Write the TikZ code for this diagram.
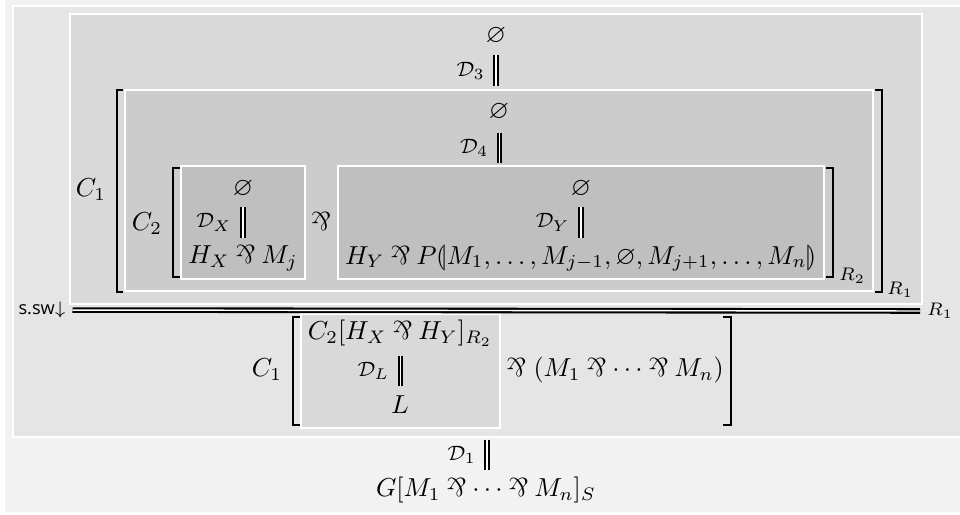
\documentclass[tikz,border=0pt]{standalone}
\usepackage{amsmath,amssymb}
\usepackage{graphicx}
\usepackage{stmaryrd}
\usepackage{fontspec}
\newfontfamily\tagfont{Open Sans}
\usetikzlibrary{positioning, fit}
\newcommand{\lpar}{\mathbin{\rotatebox[origin=c]{180}{$\&$}}}

\begin{document}
\begin{tikzpicture}[x=0.385pt, y=-0.385pt]
    \tikzstyle{panel} = [draw=white, line width=0.8pt, inner sep=0pt]
    \tikzstyle{brk} = [line width=0.8pt]
    \tikzstyle{lbl} = [font=\footnotesize, inner sep=0pt]
    \tikzstyle{sub} = [font=\scriptsize, inner sep=1pt]
    \tikzstyle{bar} = [minimum height=11.2pt, minimum width=2pt, inner sep=0pt]
    \tikzstyle{dbl} = [double, double distance=0.55pt, line width=0.8pt]

    \useasboundingbox (0,0) rectangle (960,514);
    \fill[black!5] (5,-5) rectangle (965,512);

    % nested boxes
    \node (outer) [panel, fill=black!10, fit={(13,6)(975,437)}] {};
    \node (boxA) [panel, fill=black!15, fit={(70,14)(922,304)}] {};
    \node (boxB) [panel, fill=black!20, fit={(125,90)(873,291)}] {};
    \node (boxX) [panel, fill=black!25, fit={(181,166)(305,279)}] {};
    \node (boxY) [panel, fill=black!25, fit={(338,166)(824,279)}] {};
    \node (boxL) [panel, fill=black!15, fit={(301,314)(500,428)}] {};

    % brackets
    \draw[brk] (123,90) -- (117,90) -- (117,292) -- (123,292);
    \draw[brk] (875,90) -- (882,90) -- (882,292) -- (875,292);
    \draw[brk] (180,168) -- (173,168) -- (173,277) -- (180,277);
    \draw[brk] (826,168) -- (833,168) -- (833,277) -- (826,277);
    \draw[brk] (300,317) -- (293,317) -- (293,425) -- (300,425);
    \draw[brk] (723,317) -- (731,317) -- (731,425) -- (723,425);

    % top derivation
    \node (emA) at (496,36) {$\varnothing$};
    \node (vA) [bar] at (496,70.5) {};
    \node (dA) [lbl, left=3pt of vA] {$\mathcal{D}_3$};
    \node (emB) at (499,112) {$\varnothing$};
    \node (vB) [bar] at (499.5,148) {};
    \node (dB) [lbl, left=3pt of vB] {$\mathcal{D}_4$};
    \node (cA) at (91,190) {$C_1$};
    \node (cB) at (147,224) {$C_2$};
    \node (rA) [sub] at (900,290) {$R_1$};
    \node (rB) [sub] at (852,276) {$R_2$};

    \node (emX) at (243,189) {$\varnothing$};
    \node (vX) [bar] at (243,222.5) {};
    \node (dX) [lbl, left=3pt of vX] {$\mathcal{D}_X$};
    \node (hX) at (243,258) {$H_X \lpar M_j$};
    \node (pp) at (321,222) {$\lpar$};
    \node (emY) at (581,189) {$\varnothing$};
    \node (vY) [bar] at (581,222.5) {};
    \node (dY) [lbl, left=3pt of vY] {$\mathcal{D}_Y$};
    \node (hY) at (581,258) {$H_Y \lpar P\llparenthesis M_1, \ldots, M_{j-1}, \varnothing, M_{j+1}, \ldots, M_n\rrparenthesis$};

    % rule
    \node (ssw) [sub, inner sep=2.5pt] at (42,310) {{\tagfont s.sw}$\downarrow$};
    \node (rR) [sub, inner sep=2.5pt] at (940,311) {$R_1$};
    \draw[dbl] (ssw) -- (rR);

    % lower part
    \node (cC) at (267,370) {$C_1$};
    \node (hL) at (400,333) {$C_2[H_X \lpar H_Y]_{R_2}$};
    \node (vL) [bar] at (400.5,371) {};
    \node (dL) [lbl, left=3pt of vL] {$\mathcal{D}_L$};
    \node (nL) at (400,405) {$L$};
    \node (tail) at (615,370) {$\lpar\;(M_1 \lpar \cdots \lpar M_n)$};

    % bottom derivation
    \node (v1) [bar] at (487,455) {};
    \node (d1) [lbl, left=3pt of v1] {$\mathcal{D}_1$};
    \node (goal) at (486,490) {$G[M_1 \lpar \cdots \lpar M_n]_S$};

    % derivation bars
    \foreach \b in {vA, vB, vX, vY, vL, v1}
        \draw[dbl] (\b.north) -- (\b.south);
\end{tikzpicture}
\end{document}
